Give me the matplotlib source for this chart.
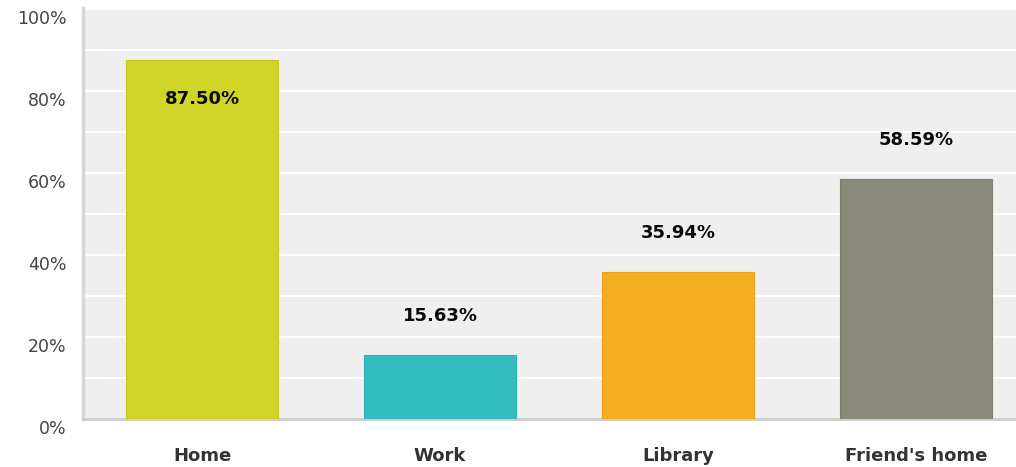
import matplotlib
matplotlib.use("Agg")
import matplotlib.pyplot as plt
import matplotlib.transforms as mtransforms
from matplotlib.ticker import MultipleLocator, FuncFormatter
import numpy as np

categories = ["Home", "Work", "Library", "Friend's home"]
values = [87.50, 15.63, 35.94, 58.59]
colors = ["#CFD427", "#33BDBF", "#F5AE1F", "#8A8A7A"]
edges = ["#C3C822", "#2FB2B4", "#E9A41C", "#7F7F70"]

fig = plt.figure(figsize=(10.16, 4.67), dpi=100)
ax = fig.add_axes([83 / 1016, 48 / 467, 933 / 1016, 411 / 467])
ax.set_facecolor("#EFEFEF")

x = np.arange(len(categories))
bars = ax.bar(x, values, width=0.64, color=colors, edgecolor=edges,
              linewidth=0.8, zorder=3)

for b, v in zip(bars, values):
    cx = b.get_x() + b.get_width() / 2
    # the tallest bar carries its label inside, the rest sit above
    off = -28 if v > 80 else 28
    ax.annotate(f"{v:.2f}%", (cx, v), textcoords="offset points",
                xytext=(0, off), ha="center", va="center",
                fontsize=13, fontweight="bold", color="#0A0A0A",
                family="DejaVu Sans")

ax.set_xlim(-0.5, 3.42)
ax.set_ylim(0, 100.25)
ax.yaxis.set_major_locator(MultipleLocator(20))
ax.yaxis.set_minor_locator(MultipleLocator(10))
ax.yaxis.set_major_formatter(FuncFormatter(lambda v, _: f"{v:.0f}%"))
ax.grid(axis="y", which="both", color="white", linewidth=1.6, zorder=1)
ax.set_axisbelow(True)

ax.set_xticks(x)
ax.set_xticklabels(categories, fontsize=13, fontweight="bold", color="#333333")
ax.tick_params(axis="x", length=0, pad=20)
ax.tick_params(axis="y", which="both", length=0, pad=12,
               labelsize=12.5, labelcolor="#444444")

# y labels sit a little below their gridlines
shift = mtransforms.ScaledTranslation(0, -8 / 100, fig.dpi_scale_trans)
for lab in ax.get_yticklabels():
    lab.set_transform(lab.get_transform() + shift)

for s in ("top", "right"):
    ax.spines[s].set_visible(False)
ax.spines["left"].set_color("#D6D6D6")
ax.spines["left"].set_linewidth(2.5)
ax.spines["bottom"].set_color("#CCCCCC")
ax.spines["bottom"].set_linewidth(2)

fig.savefig("out.png", dpi=100)
